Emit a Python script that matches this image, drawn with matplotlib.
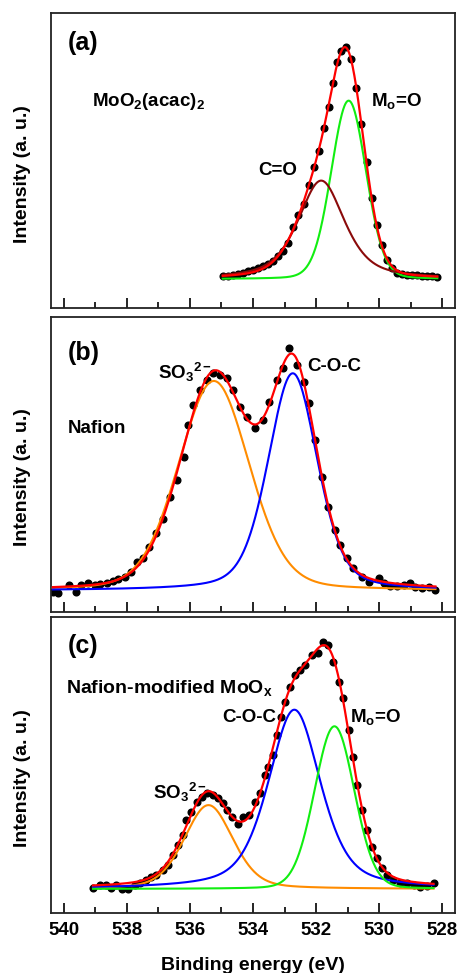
import numpy as np
import matplotlib
matplotlib.use("Agg")
import matplotlib.pyplot as plt
from matplotlib.ticker import MultipleLocator

plt.rcParams['font.family'] = 'Liberation Sans'
plt.rcParams['font.weight'] = 'bold'
plt.rcParams['mathtext.fontset'] = 'custom'
plt.rcParams['mathtext.rm'] = 'Liberation Sans:bold'
plt.rcParams['mathtext.bf'] = 'Liberation Sans:bold'
plt.rcParams['mathtext.it'] = 'Liberation Sans:bold'

# measured points (binding energy, intensity as fraction of the panel height)
a_be = [534.96, 534.80, 534.64, 534.48, 534.32, 534.16, 534.00, 533.84, 533.68, 533.52,
        533.36, 533.20, 533.04, 532.88, 532.72, 532.56, 532.40, 532.24, 532.08, 531.92,
        531.76, 531.60, 531.46, 531.34, 531.20, 531.05, 530.89, 530.74, 530.57, 530.40,
        530.24, 530.08, 529.92, 529.76, 529.60, 529.44, 529.28, 529.12, 528.96, 528.80,
        528.64, 528.48, 528.32, 528.16]
a_int = [0.108, 0.111, 0.114, 0.117, 0.121, 0.126, 0.131, 0.136, 0.143, 0.152,
         0.162, 0.176, 0.193, 0.222, 0.275, 0.315, 0.355, 0.418, 0.478, 0.532,
         0.612, 0.684, 0.763, 0.836, 0.872, 0.887, 0.845, 0.748, 0.625, 0.497,
         0.375, 0.283, 0.215, 0.164, 0.136, 0.121, 0.116, 0.113, 0.112, 0.113,
         0.110, 0.109, 0.108, 0.107]

b_be = [540.34, 540.18, 539.83, 539.62, 539.44, 539.23, 539.02, 538.86, 538.64, 538.43,
        538.28, 538.06, 537.85, 537.67, 537.48, 537.29, 537.06, 536.85, 536.63, 536.42,
        536.18, 536.07, 535.90, 535.68, 535.47, 535.26, 535.05, 534.83, 534.63, 534.41,
        534.20, 533.94, 533.67, 533.48, 533.25, 533.04, 532.85, 532.61, 532.40, 532.24,
        532.03, 531.82, 531.61, 531.40, 531.24, 531.03, 530.82, 530.55, 530.34, 530.02,
        529.86, 529.65, 529.44, 529.23, 529.02, 528.86, 528.64, 528.43, 528.22]
b_int = [0.068, 0.065, 0.091, 0.068, 0.091, 0.098, 0.091, 0.094, 0.096, 0.105,
         0.110, 0.119, 0.136, 0.170, 0.181, 0.218, 0.266, 0.313, 0.390, 0.447,
         0.526, 0.634, 0.701, 0.752, 0.786, 0.809, 0.803, 0.792, 0.752, 0.696,
         0.662, 0.622, 0.650, 0.713, 0.786, 0.826, 0.894, 0.837, 0.780, 0.709,
         0.583, 0.458, 0.356, 0.277, 0.226, 0.181, 0.147, 0.119, 0.102, 0.113,
         0.096, 0.087, 0.087, 0.091, 0.096, 0.085, 0.079, 0.085, 0.074]

c_be = [539.07, 538.86, 538.67, 538.49, 538.33, 538.14, 537.96, 537.75, 537.59, 537.40,
        537.22, 537.06, 536.85, 536.69, 536.53, 536.37, 536.23, 536.11, 535.95, 535.79,
        535.63, 535.47, 535.26, 535.10, 534.96, 534.83, 534.68, 534.47, 534.31, 534.12,
        533.94, 533.78, 533.62, 533.51, 533.37, 533.25, 533.12, 532.98, 532.83, 532.67,
        532.51, 532.35, 532.14, 531.93, 531.77, 531.61, 531.45, 531.29, 531.15, 530.97,
        530.82, 530.71, 530.55, 530.39, 530.23, 530.07, 529.91, 529.76, 529.55, 529.33,
        529.12, 528.91, 528.70, 528.49, 528.28]
c_int = [0.084, 0.096, 0.096, 0.084, 0.096, 0.081, 0.081, 0.096, 0.101, 0.112,
         0.124, 0.129, 0.146, 0.163, 0.197, 0.231, 0.264, 0.315, 0.343, 0.377,
         0.394, 0.405, 0.399, 0.388, 0.371, 0.349, 0.326, 0.301, 0.324, 0.332,
         0.377, 0.405, 0.467, 0.495, 0.534, 0.602, 0.664, 0.714, 0.765, 0.804,
         0.821, 0.838, 0.872, 0.877, 0.917, 0.906, 0.849, 0.782, 0.726, 0.619,
         0.529, 0.433, 0.349, 0.281, 0.225, 0.186, 0.152, 0.129, 0.112, 0.103,
         0.101, 0.096, 0.090, 0.093, 0.101]

# peak components as drawn: [centre eV, height, FWHM eV, lorentzian fraction]
a_base = 0.099
a_comp = {"green": [530.97, 0.605, 1.30, 0.1], "brown": [531.84, 0.334, 1.75, 0.6]}
a_fit = [[531.02, 0.693, 1.277, 0.1], [532.055, 0.262, 1.584, 0.5]]

b_base = 0.072
b_comp = {"orange": [535.24, 0.711, 2.65, 0.2], "blue": [532.74, 0.737, 1.85, 0.33]}
b_fit = [[535.224, 0.718, 2.523, 0.2], [532.708, 0.735, 1.776, 0.33]]

c_base = 0.082
c_comp = {"orange": [535.41, 0.283, 1.82, 0.3], "blue": [532.69, 0.605, 1.96, 0.5],
          "green": [531.42, 0.549, 1.49, 0.1]}
c_fit = [[535.453, 0.292, 1.692, 0.3], [532.79, 0.587, 1.919, 0.5], [531.491, 0.6, 1.549, 0.1]]


def pv(x, c, h, w, eta):
    # pseudo-Voigt line shape
    u = (x - c) / w
    return h * (eta / (1 + 4 * u**2) + (1 - eta) * np.exp(-4 * np.log(2) * u**2))


colors = {"green": "#11ee11", "brown": "#8b0a0a", "orange": "#ff8c00", "blue": "#0000ff"}
label_size = 13.5

fig = plt.figure(figsize=(4.59, 9.73), dpi=100)
rects = [[0.1111, 0.6831, 0.8802, 0.3032],
         [0.1111, 0.3713, 0.8802, 0.3029],
         [0.1111, 0.0614, 0.8802, 0.3045]]
panels = [(a_be, a_int, a_base, a_comp, a_fit),
          (b_be, b_int, b_base, b_comp, b_fit),
          (c_be, c_int, c_base, c_comp, c_fit)]

for i, (be, inten, base, comps, fit) in enumerate(panels):
    ax = fig.add_axes(rects[i])
    x = np.linspace(max(be), min(be), 500)
    ax.plot(be, inten, "o", color="black", ms=4.8, zorder=2)
    for name, (c, h, w, e) in comps.items():
        ax.plot(x, base + pv(x, c, h, w, e), color=colors[name], lw=1.5, zorder=3)
    env = np.full_like(x, base)
    for c, h, w, e in fit:
        env += pv(x, c, h, w, e)
    ax.plot(x, env, color="#ff0000", lw=1.6, zorder=4)

    ax.set_xlim(540.4, 527.6)
    ax.set_ylim(0, 1)
    ax.xaxis.set_major_locator(MultipleLocator(2))
    ax.xaxis.set_minor_locator(MultipleLocator(1))
    ax.tick_params(axis="x", which="major", direction="in", length=7, width=1.2,
                   labelsize=13.5, pad=6.5)
    ax.tick_params(axis="x", which="minor", direction="in", length=4, width=1.2)
    ax.tick_params(axis="y", left=False, labelleft=False)
    for s in ax.spines.values():
        s.set_linewidth(1.3)
        s.set_color("#222222")
    ax.set_ylabel("Intensity (a. u.)", fontsize=14, fontweight="bold")
    ax.yaxis.set_label_coords(-0.05, 0.456)
    if i < 2:
        ax.tick_params(axis="x", labelbottom=False)
    else:
        ax.set_xlabel("Binding energy (eV)", fontsize=14, fontweight="bold", labelpad=13)
    ax.text(0.042, [0.876, 0.854, 0.878][i], "(" + "abc"[i] + ")", transform=ax.transAxes,
            fontsize=18, fontweight="bold")
    if i == 0:
        ax.text(0.101, 0.6875, r"MoO$_2$(acac)$_2$", transform=ax.transAxes, fontsize=label_size)
        ax.text(0.512, 0.4536, "C=O", transform=ax.transAxes, fontsize=label_size)
        ax.text(0.792, 0.6875, r"M$_\mathrm{o}$=O", transform=ax.transAxes, fontsize=label_size)
    elif i == 1:
        ax.text(0.265, 0.791, r"SO$_3$$^{2-}$", transform=ax.transAxes, fontsize=label_size)
        ax.text(0.634, 0.818, "C-O-C", transform=ax.transAxes, fontsize=label_size)
        ax.text(0.042, 0.608, "Nafion", transform=ax.transAxes, fontsize=label_size)
    else:
        ax.text(0.037, 0.742, r"Nafion-modified MoO$_\mathrm{x}$", transform=ax.transAxes,
                fontsize=14)
        ax.text(0.423, 0.644, "C-O-C", transform=ax.transAxes, fontsize=label_size)
        ax.text(0.74, 0.644, r"M$_\mathrm{o}$=O", transform=ax.transAxes, fontsize=label_size)
        ax.text(0.252, 0.384, r"SO$_3$$^{2-}$", transform=ax.transAxes, fontsize=label_size)

fig.savefig("out.png", dpi=100)
